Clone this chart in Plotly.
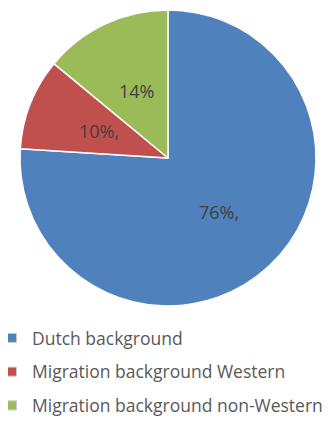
import math
import plotly.graph_objects as go

labels = ["Dutch background", "Migration background Western", "Migration background non-Western"]
values = [76, 10, 14]
slice_text = ["76%,", "10%,", "14%"]
colors = ["#4F81BD", "#C0504D", "#9BBB59"]

# page body has an 8px margin, so the figure is sized to fit the window
W, H = 323, 413
cx, cy, R = 160, 150, 148  # pie centre / radius in figure pixels (layout)
fig = go.Figure()
fig.add_trace(go.Pie(
    labels=labels, values=values,
    textinfo="none",
    sort=False, direction="clockwise", rotation=0,
    marker=dict(colors=colors, line=dict(color="white", width=1.5)),
    showlegend=False, hoverinfo="label+percent",
    domain=dict(x=[(cx - R) / W, (cx + R) / W], y=[1 - (cy + R) / H, 1 - (cy - R) / H]),
))

# slice labels placed at half radius along each slice's bisector
total = sum(values)
cum = 0
annotations = []
for v, t in zip(values, slice_text):
    mid = (cum + v / 2) / total * 2 * math.pi
    cum += v
    px = cx + 0.5 * R * math.sin(mid)
    py = cy - 0.5 * R * math.cos(mid)
    annotations.append(dict(x=px / W, y=1 - py / H, xref="paper", yref="paper",
                            xanchor="center", yanchor="middle",
                            text=t, showarrow=False,
                            font=dict(family="Open Sans", size=18, color="#404040")))

for i, (lab, col) in enumerate(zip(labels, colors)):
    fig.add_trace(go.Scatter(
        x=[None], y=[None], mode="markers", name=lab, legendgroup=str(i),
        marker=dict(symbol="square", size=9, color=col, line=dict(color="#c8c8c8", width=1)),
    ))

fig.update_layout(
    width=W, height=H, margin=dict(l=0, r=0, t=0, b=0, autoexpand=False),
    paper_bgcolor="white", plot_bgcolor="white",
    xaxis=dict(visible=False), yaxis=dict(visible=False),
    annotations=annotations,
    legend=dict(x=-16 / W, y=1 - 312 / H, xanchor="left", yanchor="top",
                font=dict(family="Open Sans", size=17.5, color="#595959"),
                tracegroupgap=8, itemwidth=30, bgcolor="rgba(0,0,0,0)"),
)
fig.write_html("out.html")
